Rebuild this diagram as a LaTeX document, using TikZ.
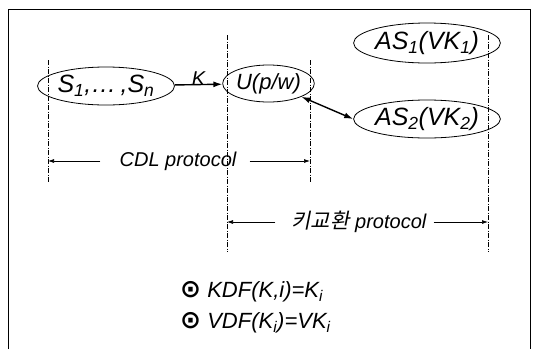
\documentclass[tikz,border=0pt]{standalone}
\usepackage{fontspec}
\setmainfont{Liberation Sans}
\newfontfamily\krfont[FakeSlant=0.2]{Noto Sans CJK KR}
\newfontfamily\symfont{DejaVu Sans}
\usetikzlibrary{arrows.meta,shapes.geometric}
\newcommand\mysb[1]{\textsubscript{#1}}
\begin{document}
\begin{tikzpicture}[x=1pt,y=-1pt,
  ent/.style={ellipse,draw,line width=0.8pt,inner sep=0pt,font=\fontsize{25}{27}\selectfont\itshape},
  lab/.style={inner sep=1pt,font=\fontsize{20}{22}\selectfont\itshape},
  fml/.style={inner sep=1pt,font=\fontsize{22}{24}\selectfont\itshape},
  guide/.style={line width=0.6pt,dash pattern=on 5pt off 1.5pt on 1pt off 1.5pt},
  arr/.style={line width=0.7pt,-{Latex[length=6pt,width=4pt]}},
  bold arr/.style={line width=1.4pt,-{Latex[length=9pt,width=6pt]}},
  dbl arr/.style={line width=1.4pt,{Latex[length=9pt,width=6pt]}-{Latex[length=9pt,width=6pt]}}]
\useasboundingbox (0,0) rectangle (539,349);
% frame
\draw[line width=0.8pt] (8,349) -- (8,9) -- (530,9) -- (530,349);
% entities
\node[ent,minimum width=114pt,minimum height=38pt] (S) at (106,86) {S\mysb{1},\ldots\,,S\mysb{n}};
\node[ent,minimum width=81pt,minimum height=37pt,font=\fontsize{22}{24}\selectfont\itshape] (U) at (268.5,83.5) {U(p/w)};
\node[ent,minimum width=123pt,minimum height=40pt] (AS1) at (427,43) {AS\mysb{1}(VK\mysb{1})};
\node[ent,minimum width=123pt,minimum height=38pt] (AS2) at (427,119) {AS\mysb{2}(VK\mysb{2})};
% connectors
\draw[bold arr] (S) -- node[lab,above=-3pt] (K) {K} (U);
\draw[dbl arr] (U.-22) -- (AS2.west);
% guide lines
\coordinate (g1t) at (48,60);  \coordinate (g1b) at (48,183);
\coordinate (g2t) at (227,35); \coordinate (g2b) at (227,252);
\coordinate (g3t) at (310,60); \coordinate (g3b) at (310,183);
\coordinate (g4t) at (488,35); \coordinate (g4b) at (488,252);
\draw[guide] (g1t) -- (g1b);
\draw[guide] (g2t) -- (g2b);
\draw[guide] (g3t) -- (g3b);
\draw[guide] (g4t) -- (g4b);
% protocol ranges
\node[lab] (cdl) at (178,161) {CDL protocol};
\coordinate (cdlL) at (48,161); \coordinate (cdlR) at (310,161);
\draw[arr,shorten <=18pt] (cdl) -- (cdlL);
\draw[arr,shorten <=12pt] (cdl) -- (cdlR);
\node[lab] (kx) at (359,222) {{\krfont\fontsize{21}{23}\selectfont 키교환} protocol};
\coordinate (kxL) at (227,222); \coordinate (kxR) at (488,222);
\draw[arr,shorten <=15pt] (kx) -- (kxL);
\draw[arr,shorten <=6pt] (kx) -- (kxR);
% formulas
\node[fml,anchor=west] (f1) at (179,292) {{\symfont\bfseries\fontsize{25}{26}\selectfont ⊙} KDF(K,i)=K\mysb{i}};
\node[fml,anchor=west] (f2) at (179,323) {{\symfont\bfseries\fontsize{25}{26}\selectfont ⊙} VDF(K\mysb{i})=VK\mysb{i}};
\end{tikzpicture}
\end{document}
